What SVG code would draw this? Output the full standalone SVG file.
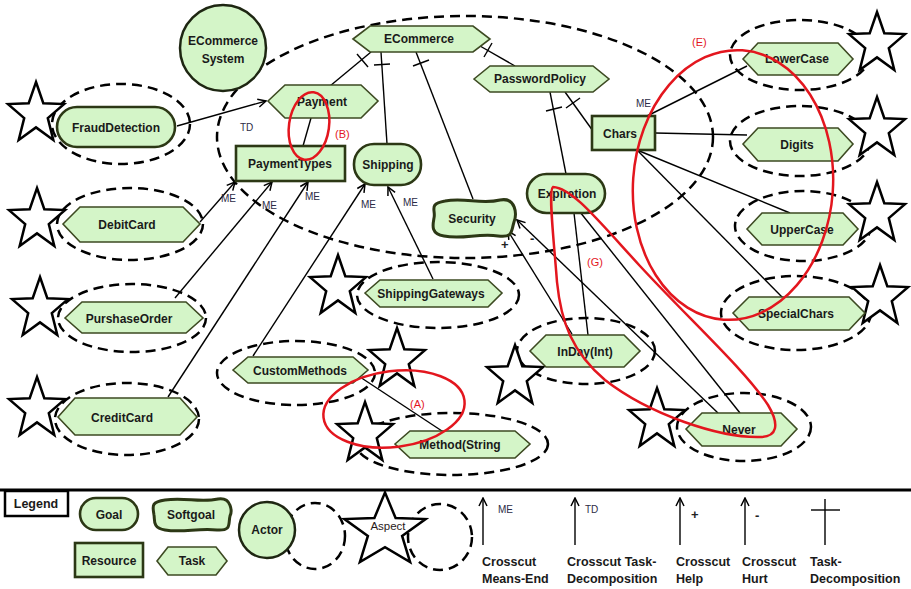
<svg xmlns="http://www.w3.org/2000/svg" width="911" height="589" viewBox="0 0 911 589">
  <style>
    .task { fill: #d4f5c8; stroke: #3d4a22; stroke-width: 1.6; }
    .goal { fill: #d4f5c8; stroke: #2c3815; stroke-width: 2.6; }
    .res  { fill: #d4f5c8; stroke: #2c3815; stroke-width: 2.6; }
    .soft { fill: #d4f5c8; stroke: #2c3815; stroke-width: 3; }
    .actor { fill: #d4f5c8; stroke: #1e2612; stroke-width: 2.5; }
    .asp  { fill: none; stroke: #000; stroke-width: 2.5; stroke-dasharray: 10 6; }
    .link { fill: none; stroke: #000; stroke-width: 1.4; }
    .arrow { marker-end: url(#arr); }
    .red  { fill: none; stroke: #e3161e; stroke-width: 2.5; }
    text { font-family: "Liberation Sans", Arial, sans-serif; }
    .lbl  { font-size: 12px; font-weight: bold; fill: #1a1a1a; text-anchor: middle; }
    .sm   { font-size: 10px; fill: #2b2b45; }
    .redt { font-size: 11px; fill: #e3161e; }
    .leg  { font-size: 12.5px; font-weight: bold; fill: #1a1a1a; }
  </style>
  <defs>
    <marker id="arr" viewBox="0 0 10 10" refX="9" refY="5" markerWidth="10" markerHeight="10" markerUnits="userSpaceOnUse" orient="auto">
      <path d="M1,1 L9,5 L1,9" fill="none" stroke="#000" stroke-width="1.5"/>
    </marker>
    <path id="star" d="M0,-32 L7.3,-10.8 L28,-9.9 L11.8,4.1 L17.3,25.9 L0,13.4 L-17.3,25.9 L-11.8,4.1 L-28,-9.9 L-7.3,-10.8 Z" fill="#fff" stroke="#000" stroke-width="2.5"/>
  </defs>

  <rect width="911" height="589" fill="#fff"/>

  <!-- system boundary and actor -->
  <g id="system-boundary">
    <ellipse class="asp" cx="465" cy="137" rx="248" ry="121"/>
  </g>
  <g id="actor-ecommerce-system">
    <circle class="actor" cx="223" cy="48" r="43"/>
    <text class="lbl" x="223" y="45">ECommerce</text>
    <text class="lbl" x="223" y="63">System</text>
  </g>

  <!-- aspect boundaries -->
  <g id="aspect-boundaries">
    <ellipse class="asp" cx="121" cy="124" rx="69" ry="40"/>
    <ellipse class="asp" cx="130" cy="224" rx="73" ry="36"/>
    <ellipse class="asp" cx="132" cy="318" rx="74" ry="34"/>
    <ellipse class="asp" cx="127" cy="419" rx="72" ry="36"/>
    <ellipse class="asp" cx="800" cy="55" rx="70" ry="35"/>
    <ellipse class="asp" cx="800" cy="141" rx="70" ry="35"/>
    <ellipse class="asp" cx="803" cy="226" rx="68" ry="35"/>
    <ellipse class="asp" cx="796" cy="313" rx="75" ry="37"/>
    <ellipse class="asp" cx="744" cy="427" rx="67" ry="34"/>
    <ellipse class="asp" cx="586" cy="351" rx="69" ry="33"/>
    <ellipse class="asp" cx="438" cy="295" rx="81" ry="33"/>
    <ellipse class="asp" cx="296" cy="373" rx="79" ry="32"/>
    <ellipse class="asp" cx="452" cy="444" rx="96" ry="31"/>
  </g>

  <!-- connectors -->
  <g id="connectors">
    <line class="link arrow" x1="177" y1="126" x2="266" y2="101"/>
    <text class="sm" x="240" y="131">TD</text>

    <line class="link" x1="330" y1="86" x2="371" y2="52"/>
    <line class="link" x1="357" y1="54" x2="368" y2="67"/>
    <line class="link" x1="387" y1="144" x2="381" y2="52"/>
    <line class="link" x1="374" y1="65" x2="390" y2="64"/>
    <line class="link" x1="473" y1="199" x2="416" y2="52"/>
    <line class="link" x1="413" y1="66" x2="429" y2="60"/>
    <line class="link" x1="515" y1="66" x2="480" y2="46"/>
    <line class="link" x1="492" y1="43" x2="484" y2="57"/>
    <line class="link" x1="593" y1="131" x2="565" y2="92"/>
    <line class="link" x1="566" y1="108" x2="580" y2="98"/>
    <line class="link" x1="566" y1="174" x2="550" y2="92"/>
    <line class="link" x1="546" y1="111" x2="562" y2="107"/>

    <line class="link" x1="311" y1="118" x2="303" y2="146"/>

    <line class="link arrow" x1="200" y1="222" x2="235" y2="182"/>
    <line class="link arrow" x1="175" y1="298" x2="272" y2="182"/>
    <line class="link arrow" x1="168" y1="397" x2="308" y2="182"/>
    <text class="sm" x="221" y="202">ME</text>
    <text class="sm" x="262" y="209">ME</text>
    <text class="sm" x="305" y="200">ME</text>

    <line class="link arrow" x1="253" y1="356" x2="365" y2="184"/>
    <line class="link arrow" x1="433" y1="279" x2="388" y2="187"/>
    <text class="sm" x="361" y="208">ME</text>
    <text class="sm" x="403" y="206">ME</text>

    <line class="link" x1="360" y1="377" x2="445" y2="433"/>

    <line class="link arrow" x1="572" y1="334" x2="508" y2="231"/>
    <line class="link arrow" x1="718" y1="413" x2="517" y2="220"/>
    <text x="501" y="249" style="font-size:13px;font-weight:bold;fill:#222">+</text>
    <text x="530" y="243" style="font-size:13px;font-weight:bold;fill:#222">-</text>

    <line class="link" x1="574" y1="213" x2="588" y2="335"/>
    <line class="link" x1="580" y1="212" x2="740" y2="413"/>

    <line class="link" x1="647" y1="116" x2="747" y2="66"/>
    <text class="sm" x="636" y="107">ME</text>
    <line class="link" x1="655" y1="133" x2="747" y2="135"/>
    <line class="link" x1="637" y1="150" x2="790" y2="213"/>
    <line class="link" x1="638" y1="151" x2="783" y2="298"/>
  </g>

  <!-- aspects -->
  <g id="aspect-stars">
    <use href="#star" x="36" y="114"/>
    <use href="#star" x="37" y="220"/>
    <use href="#star" x="40" y="309"/>
    <use href="#star" x="37" y="409"/>
    <use href="#star" x="877" y="44"/>
    <use href="#star" x="877" y="129"/>
    <use href="#star" x="877" y="214"/>
    <use href="#star" x="880" y="297"/>
    <use href="#star" x="657" y="420"/>
    <use href="#star" x="515" y="377"/>
    <use href="#star" x="338" y="287"/>
    <use href="#star" x="397" y="360"/>
    <use href="#star" x="365" y="434"/>
  </g>

  <!-- nodes -->
  <g id="ECommerce">
    <polygon class="task" points="353,39 370,26 473,26 490,39 473,52 370,52"/>
    <text class="lbl" x="419" y="43">ECommerce</text>
  </g>
  <g id="PasswordPolicy">
    <polygon class="task" points="474,79 490,66 593,66 609,79 593,92 490,92"/>
    <text class="lbl" x="540" y="83">PasswordPolicy</text>
  </g>
  <g id="Payment">
    <polygon class="task" points="268,101 285,85 361,85 378,101 361,118 285,118"/>
    <text class="lbl" x="322" y="106">Payment</text>
  </g>
  <g id="PaymentTypes">
    <rect class="res" x="236" y="146" width="109" height="35"/>
    <text class="lbl" x="290" y="168">PaymentTypes</text>
  </g>
  <g id="Shipping">
    <rect class="goal" x="354" y="144" width="67" height="41" rx="20"/>
    <text class="lbl" x="388" y="169">Shipping</text>
  </g>
  <g id="Security">
    <path class="soft" d="M445,201 C465,197 481,205 500,200 C516,197 517,214 514,222 C511,232 513,238 498,236 C478,233 462,240 444,236 C430,234 433,224 434,218 C436,210 428,204 445,201 Z"/>
    <text class="lbl" x="472" y="223">Security</text>
  </g>
  <g id="Expiration">
    <rect class="goal" x="527" y="174" width="78" height="39" rx="19.5"/>
    <text class="lbl" x="567" y="198">Expiration</text>
  </g>
  <g id="Chars">
    <rect class="res" x="592" y="116" width="63" height="34"/>
    <text class="lbl" x="620" y="138">Chars</text>
  </g>
  <g id="LowerCase">
    <polygon class="task" points="743,59 758,43 838,43 853,59 838,75 758,75"/>
    <text class="lbl" x="797" y="63">LowerCase</text>
  </g>
  <g id="Digits">
    <polygon class="task" points="743,144 758,128 838,128 853,144 838,161 758,161"/>
    <text class="lbl" x="797" y="149">Digits</text>
  </g>
  <g id="UpperCase">
    <polygon class="task" points="747,229 762,213 843,213 858,229 843,245 762,245"/>
    <text class="lbl" x="802" y="234">UpperCase</text>
  </g>
  <g id="SpecialChars">
    <polygon class="task" points="733,313 749,297 849,297 865,313 849,330 749,330"/>
    <text class="lbl" x="796" y="318">SpecialChars</text>
  </g>
  <g id="Never">
    <polygon class="task" points="686,429 702,413 781,413 797,429 781,446 702,446"/>
    <text class="lbl" x="739" y="434">Never</text>
  </g>
  <g id="InDay">
    <polygon class="task" points="530,351 546,335 624,335 640,351 624,367 546,367"/>
    <text class="lbl" x="585" y="356">InDay(Int)</text>
  </g>
  <g id="ShippingGateways">
    <polygon class="task" points="365,293 380,280 488,280 502,293 488,307 380,307"/>
    <text class="lbl" x="431" y="298">ShippingGateways</text>
  </g>
  <g id="CustomMethods">
    <polygon class="task" points="233,370 248,357 353,357 368,370 353,383 248,383"/>
    <text class="lbl" x="300" y="375">CustomMethods</text>
  </g>
  <g id="MethodString">
    <polygon class="task" points="395,444 410,431 515,431 530,444 515,458 410,458"/>
    <text class="lbl" x="460" y="449">Method(String</text>
  </g>
  <g id="FraudDetection">
    <rect class="goal" x="57" y="107" width="118" height="40" rx="20"/>
    <text class="lbl" x="116" y="132">FraudDetection</text>
  </g>
  <g id="DebitCard">
    <polygon class="task" points="63,224 80,207 183,207 200,224 183,242 80,242"/>
    <text class="lbl" x="127" y="229">DebitCard</text>
  </g>
  <g id="PurshaseOrder">
    <polygon class="task" points="65,318 82,302 186,302 203,318 186,333 82,333"/>
    <text class="lbl" x="129" y="323">PurshaseOrder</text>
  </g>
  <g id="CreditCard">
    <polygon class="task" points="58,417 75,398 180,398 197,417 180,435 75,435"/>
    <text class="lbl" x="122" y="422">CreditCard</text>
  </g>

  <!-- highlighted areas -->
  <g id="highlights">
    <ellipse class="red" cx="309" cy="126" rx="20" ry="34" transform="rotate(8 309 126)"/>
    <text class="redt" x="335" y="138">(B)</text>
    <ellipse class="red" cx="733" cy="185" rx="100" ry="135" transform="rotate(4 733 185)"/>
    <text class="redt" x="692" y="46">(E)</text>
    <path class="red" d="M553,187 C572,188 596,218 640,266 C690,320 745,370 768,405 C780,425 777,437 760,437 C720,438 650,415 605,380 C572,352 561,322 557,282 C554,242 548,190 553,187 Z"/>
    <text class="redt" x="587" y="266">(G)</text>
    <ellipse class="red" cx="394" cy="409" rx="71" ry="38" transform="rotate(-7 394 409)"/>
    <text class="redt" x="410" y="408">(A)</text>
  </g>

  <!-- legend -->
  <g id="legend">
    <line x1="0" y1="490" x2="911" y2="490" stroke="#000" stroke-width="3"/>
    <rect x="5" y="491" width="63" height="25" fill="#fff" stroke="#000" stroke-width="2.5"/>
    <text class="leg" x="36" y="508" text-anchor="middle">Legend</text>

    <rect class="goal" x="80" y="498" width="58" height="32" rx="16"/>
    <text class="lbl" x="109" y="519">Goal</text>
    <path class="soft" d="M165,500 C185,497 200,503 218,499 C232,497 232,512 230,516 C228,524 232,531 217,530 C197,528 183,533 165,530 C152,528 155,520 154,515 C153,507 150,502 165,500 Z"/>
    <text class="lbl" x="191" y="519">Softgoal</text>
    <rect class="res" x="75" y="543" width="68" height="34"/>
    <text class="lbl" x="109" y="565">Resource</text>
    <polygon class="task" points="157,561 168,547 216,547 227,561 216,575 168,575"/>
    <text class="lbl" x="192" y="565">Task</text>

    <ellipse class="asp" cx="315" cy="536" rx="30" ry="33"/>
    <circle class="actor" cx="267" cy="530" r="28"/>
    <text class="lbl" x="267" y="534">Actor</text>

    <ellipse class="asp" cx="440" cy="537" rx="32" ry="33"/>
    <path d="M385,492.6 L395.6,518 L425.6,519.1 L402.1,535.9 L410.1,562.1 L385,547.1 L359.9,562.1 L367.9,535.9 L344.4,519.1 L374.4,518 Z" fill="#fff" stroke="#000" stroke-width="2.5"/>
    <text x="388" y="530" text-anchor="middle" style="font-size:11.5px;fill:#2a1a1a">Aspect</text>

    <line class="link arrow" x1="483" y1="545" x2="483" y2="498"/>
    <text class="sm" x="498" y="513">ME</text>
    <line class="link arrow" x1="575" y1="545" x2="575" y2="498"/>
    <text class="sm" x="585" y="513">TD</text>
    <line class="link arrow" x1="680" y1="545" x2="680" y2="498"/>
    <text x="691" y="519" style="font-size:13px;font-weight:bold;fill:#222">+</text>
    <line class="link arrow" x1="745" y1="545" x2="745" y2="498"/>
    <text x="755" y="520" style="font-size:13px;font-weight:bold;fill:#222">-</text>
    <line class="link" x1="825" y1="499" x2="825" y2="545"/>
    <line class="link" x1="811" y1="510" x2="840" y2="510"/>

    <text class="leg" x="482" y="566">Crosscut</text>
    <text class="leg" x="482" y="583">Means-End</text>
    <text class="leg" x="567" y="566">Crosscut Task-</text>
    <text class="leg" x="567" y="583">Decomposition</text>
    <text class="leg" x="676" y="566">Crosscut</text>
    <text class="leg" x="676" y="583">Help</text>
    <text class="leg" x="742" y="566">Crosscut</text>
    <text class="leg" x="742" y="583">Hurt</text>
    <text class="leg" x="810" y="566">Task-</text>
    <text class="leg" x="810" y="583">Decomposition</text>
  </g>
</svg>
